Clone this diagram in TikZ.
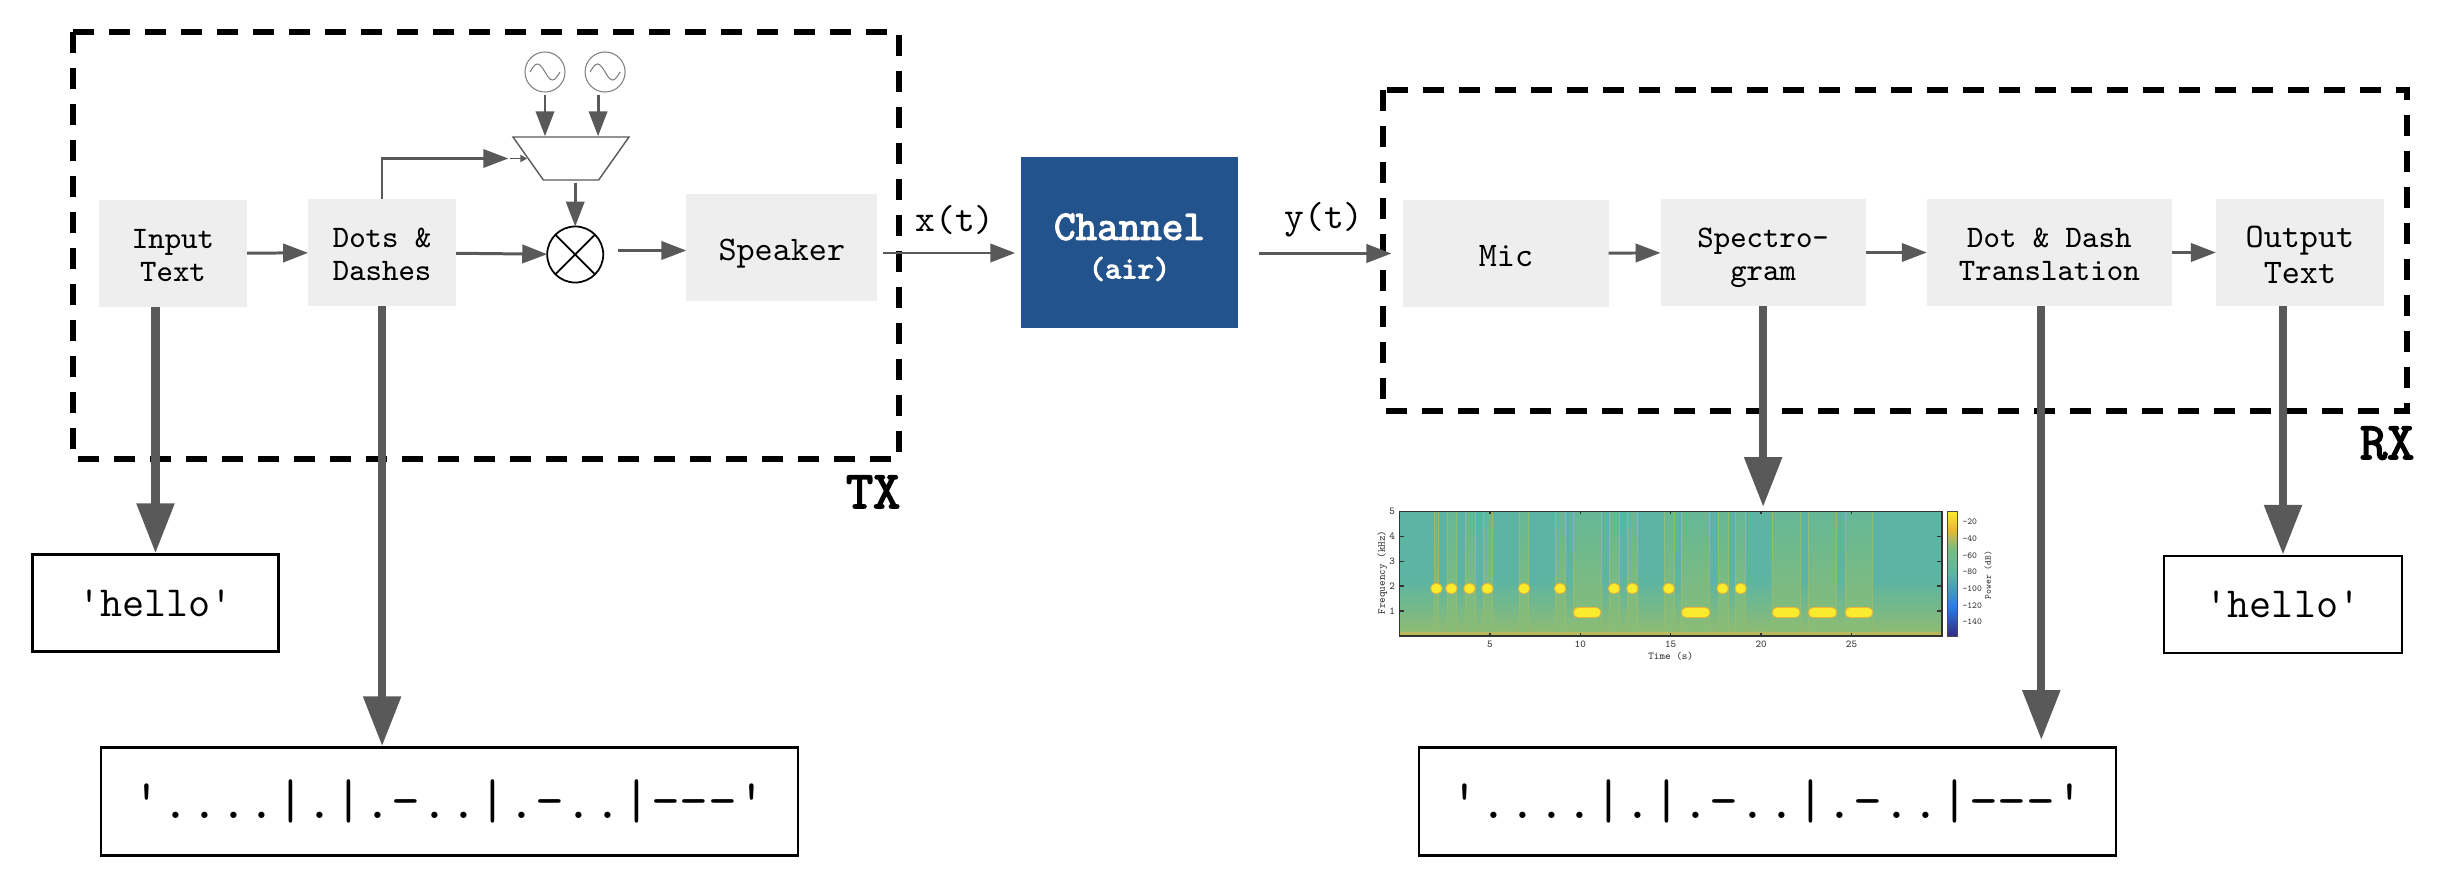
\documentclass[tikz,border=0pt]{standalone}
\usepackage{fontspec}
\setmonofont{Latin Modern Mono}[AutoFakeBold=3]
\usetikzlibrary{arrows.meta,calc,positioning,shapes.geometric}
\definecolor{flowgray}{HTML}{595959}
\definecolor{boxgray}{HTML}{EEEEEE}
\definecolor{chanblue}{HTML}{23538C}
\definecolor{specteal}{HTML}{5CB5A2}
\definecolor{specband}{HTML}{78BD80}
\definecolor{specyellow}{HTML}{F9EC2C}
\definecolor{specorange}{HTML}{EDB63A}
\definecolor{cbdark}{HTML}{352A87}
\definecolor{cbblue}{HTML}{2A7FDC}
\pgfdeclareverticalshading{parula}{100bp}{
  color(0bp)=(cbdark);
  color(25bp)=(cbdark);
  color(37bp)=(cbblue);
  color(50bp)=(specteal);
  color(60bp)=(specband);
  color(68bp)=(specorange);
  color(75bp)=(specyellow);
  color(100bp)=(specyellow)}
\tikzset{
  flow/.style = {draw = flowgray, line width = 0.85pt, -{Triangle[length = 7.1pt, width = 5.2pt]}},
  bigflow/.style = {draw = flowgray, line width = 2.3pt, -{Triangle[length = 14.2pt, width = 10.3pt]}},
  block/.style = {fill = boxgray, inner sep = 0pt, outer sep = 0pt, align = center, minimum height = 1.07cm,
    text height = 16.2pt, text depth = 0pt, font = \ttfamily\fontsize{8.9}{9.6}\selectfont},
  oneline/.style = {text height = 7.3pt, text depth = 0pt, font = \ttfamily\fontsize{9.8}{10}\selectfont},
  result/.style = {draw = black, line width = 0.7pt, inner sep = 0pt},
  zone/.style = {draw = black, line width = 1.45pt, dash pattern = on 5.97pt off 4.27pt},
  osc/.style = {circle, draw = gray, line width = 0.3pt, inner sep = 0pt, minimum size = 0.4cm,
    path picture = {
      \draw[gray, line width = 0.3pt] ($(path picture bounding box.center) + (-15,0)$)
        sin ++(7.5,-8) cos ++(7.5,8) sin ++(7.5,8) cos ++(7.5,-8);}},
  ticklab/.style = {font = \ttfamily\fontsize{3}{3}\selectfont, text = black!80, inner sep = 0pt},
  cblab/.style = {font = \ttfamily\fontsize{2.6}{3}\selectfont, text = black!80, inner sep = 0pt}
}
\begin{document}
\begin{tikzpicture}[x = 0.01cm, y = -0.01cm]
  \useasboundingbox (0,0) rectangle (2450,870);

  \draw[zone] (73,32) rectangle (899,459);
  \draw[zone] (1383,90) rectangle (2407,411);

  \node[block, minimum width = 1.48cm] (input) at (173,253.5) {Input\\Text};
  \node[block, minimum width = 1.48cm, right = 0.61cm of input, yshift = 0.01cm] (dots) {Dots \&\\Dashes};
  \node[circle, draw = black, line width = 0.5pt, inner sep = 0pt, outer sep = 0pt, minimum size = 0.56cm,
    right = 0.91cm of dots, yshift = -0.02cm] (mult) {};
  \node[block, oneline, minimum width = 1.91cm, right = 0.83cm of mult, yshift = 0.07cm] (speaker) {Speaker};
  \node[trapezium, trapezium stretches = true, trapezium angle = 56, shape border rotate = 180,
    draw = flowgray, line width = 0.4pt, inner sep = 0pt, minimum width = 1.16cm, minimum height = 0.43cm] (mixer) at (571,158.5) {\phantom{x}};
  \node[osc] (osca) at (545,72) {};
  \node[osc, right = 0.19cm of osca] (oscb) {};
  \node[fill = chanblue, text = white, inner sep = 0pt, align = center, minimum width = 2.17cm, minimum height = 1.71cm,
    text height = 20.4pt, text depth = 0pt, font = \ttfamily\bfseries\fontsize{8.8}{11}\selectfont] (channel) at (1129.5,242.5)
    {{\fontsize{11.9}{11}\selectfont Channel}\\(air)};
  \node[block, oneline, minimum width = 2.05cm] (mic) at (1506,253.5) {Mic};
  \node[block, minimum width = 2.05cm, right = 0.52cm of mic, yshift = 0.01cm] (spectro) {Spectro-\\gram};
  \node[block, minimum width = 2.45cm, right = 0.61cm of spectro] (transl) {Dot \& Dash\\Translation};
  \node[block, minimum width = 1.68cm, right = 0.44cm of transl, text height = 17.8pt, font = \ttfamily\fontsize{9.8}{10.4}\selectfont] (output) {Output\\Text};

  \node[result, minimum width = 2.46cm, minimum height = 0.97cm, font = \ttfamily\fontsize{12.2}{12}\selectfont] (hellotx) at (155.5,603) {'hello'};
  \node[result, minimum width = 6.97cm, minimum height = 1.08cm, font = \ttfamily\fontsize{15.9}{16}\selectfont] (morsetx) at (449.5,801.5) {'....|.|.-..|.-..|---'};
  \node[result, minimum width = 2.38cm, minimum height = 0.97cm, font = \ttfamily\fontsize{12.2}{12}\selectfont] (hellorx) at (2283,604.5) {'hello'};
  \node[result, minimum width = 6.97cm, minimum height = 1.08cm, font = \ttfamily\fontsize{15.9}{16}\selectfont] (morserx) at (1767.5,801.5) {'....|.|.-..|.-..|---'};

  \node[anchor = base east, font = \ttfamily\bfseries\fontsize{15}{15}\selectfont, inner sep = 0pt] (ltx) at (901,508) {TX};
  \node[anchor = base east, font = \ttfamily\bfseries\fontsize{15}{15}\selectfont, inner sep = 0pt] (lrx) at (2415,459) {RX};
  \node[font = \ttfamily\fontsize{10.7}{11}\selectfont, inner sep = 0pt] (lx) at (955,220) {x(t)};
  \node[font = \ttfamily\fontsize{10.7}{11}\selectfont, inner sep = 0pt] (ly) at (1324,220) {y(t)};

  \draw[line width = 0.5pt] (mult.45) -- (mult.225) (mult.135) -- (mult.-45);
  \coordinate[left = 0.19cm of mixer.west] (feed);
  \coordinate (xout) at (speaker.east |- 0,253);
  \coordinate (plottop) at (spectro.south |- 0,507);
  \draw[flow] (input) -- (dots);
  \draw[flow] (dots) -- (mult);
  \draw[flow, shorten <= 0.15cm] (mult.east |- 0,250.5) -- (speaker.west |- 0,250.5);
  \draw[flow, line width = 0.7pt] (dots.north) |- (feed);
  \draw[draw = flowgray, line width = 0.5pt, -{Triangle[length = 2pt, width = 2pt]}, shorten <= 0.02cm] (feed) -- (mixer.west);
  \draw[flow, shorten <= 0.02cm] (osca.south) -- (osca.south |- mixer.north);
  \draw[flow, shorten <= 0.02cm] ([xshift = -0.07cm]oscb.south) -- ([xshift = -0.07cm]oscb.south |- mixer.north);
  \draw[flow, shorten <= 0.02cm] (mult.north |- mixer.south) -- (mult.north);
  \draw[flow, shorten <= 0.06cm, shorten >= 0.05cm] (xout) -- (xout -| channel.west);
  \draw[flow, shorten <= 0.2cm, shorten >= 0.12cm] (channel.east |- mic.west) -- (mic.west);
  \draw[flow] (mic) -- (spectro);
  \draw[flow] (spectro) -- (transl);
  \draw[flow] (transl) -- (output);
  \draw[bigflow] (hellotx |- input.south) -- (hellotx.north);
  \draw[bigflow] (dots.south) -- (dots.south |- morsetx.north);
  \draw[bigflow] ([xshift = -0.08cm]transl.south) -- ([xshift = -0.08cm]transl.south |- 0,740);
  \draw[bigflow] (hellorx |- output.south) -- (hellorx.north);
  \draw[bigflow] (spectro.south) -- (plottop);

  \begin{scope}[shift = {(1399.5,636)}, x = 0.1807cm, y = 0.249cm]
    \fill[specteal] (0,0) rectangle (30,5);
    \fill[top color = specteal, bottom color = specband!80!specorange] (0,0.1) rectangle (30,2.2);
    \foreach \a/\b in {1.92/2.14, 2.62/3.16, 3.61/4.18, 4.63/5.12, 6.61/7.13, 8.62/9.16, 9.62/11.17, 11.6/12.17, 12.6/13.16, 14.63/15.17, 15.6/17.16, 17.63/18.17, 18.58/19.14, 20.6/22.17, 22.62/24.18, 24.63/26.16} {
      \fill[top color = specteal!70!specband, bottom color = specband!85!specorange] (\a,0.1) rectangle (\b,5);
      \draw[specband!75!specorange, line width = 0.15pt] (\a,0.1) -- (\a,5) (\b,0.1) -- (\b,5);
    }
    \fill[specband!45!specorange] (0,0) rectangle (30,0.17);
    \foreach \tm in {2.04, 2.87, 3.87, 4.86, 6.89, 8.88, 11.87, 12.88, 14.89, 17.87, 18.87} {
      \draw[specorange, line width = 3pt, line cap = round] (\tm-0.05,1.9) -- (\tm+0.05,1.9);
      \draw[specyellow, line width = 2.4pt, line cap = round] (\tm-0.05,1.9) -- (\tm+0.05,1.9);
    }
    \foreach \a/\b in {9.88/10.87, 15.86/16.9, 20.88/21.89, 22.88/23.92, 24.91/25.91} {
      \draw[specorange, line width = 3pt, line cap = round] (\a,0.936) -- (\b,0.936);
      \draw[specyellow, line width = 2.4pt, line cap = round] (\a,0.936) -- (\b,0.936);
    }
    \draw[black!80, line width = 0.4pt] (0,0) rectangle (30,5);
    \foreach \tm in {5,10,...,25} {
      \draw[black!80, line width = 0.4pt] (\tm,0) -- (\tm,0.12) (\tm,5) -- (\tm,4.88);
      \node[ticklab] (xt\tm) at (\tm,-0.35) {\tm};
    }
    \foreach \fq in {1,...,5} {
      \draw[black!80, line width = 0.4pt] (0,\fq) -- (0.25,\fq) (30,\fq) -- (29.75,\fq);
      \node[ticklab] (yt\fq) at (-0.4,\fq) {\fq};
    }
    \node[ticklab] (xlab) at (15,-0.82) {Time (s)};
    \node[ticklab, rotate = 90] (ylab) at (-0.95,2.55) {Frequency (kHz)};
    \shade[shading = parula] (30.3,0) rectangle (30.85,5);
    \draw[black!70, line width = 0.2pt] (30.3,0) rectangle (30.85,5);
    \foreach \val [count = \i from 0] in {-20,-40,-60,-80,-100,-120,-140}
      \node[cblab, anchor = west] (cb\i) at (31.1,4.58-0.669*\i) {\val};
    \node[cblab, rotate = 90] (cbname) at (32.55,2.45) {Power (dB)};
  \end{scope}
\end{tikzpicture}
\end{document}
